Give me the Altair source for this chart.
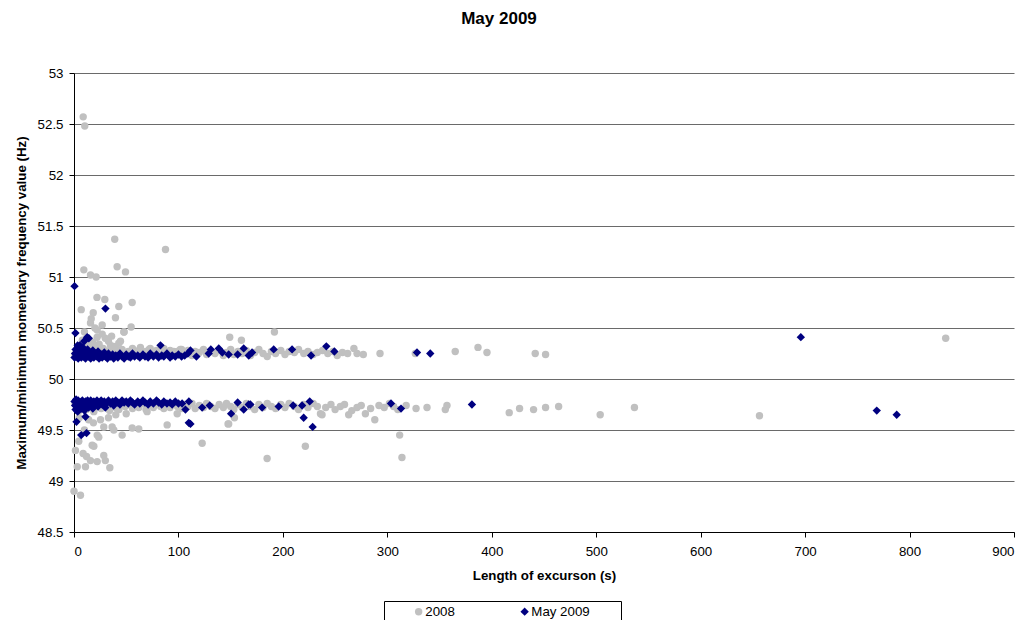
import altair as alt
import pandas as pd

# ---- 2008 series (grey circles) ----
g2008_x = [
    # high outliers
    8.8, 10.3, 39, 87.6, 9.4, 15.8, 21.2, 41.3, 49.3,
    22, 29.5, 55.7, 6.9, 18.4, 16.5, 42.9, 39.7, 27, 47.7, 54.7, 10, 22.2, 44.5, 15.8,
    48, 22.2, 42.9, 63.6, 73, 95.5, 101.8, 149.1, 160.3, 191.9, 30, 35, 12, 4,
    8, 13, 18, 24, 33, 38, 27, 20, 36,
    # upper band
    1, 3, 5, 7, 9, 12, 14, 17, 19, 23, 26, 28, 31, 34, 37, 40, 43, 46, 49, 52, 56, 59, 62,
    66, 69, 72, 76, 79, 83, 86, 89, 92, 96, 99, 103, 106, 109, 113, 116, 120, 124, 127,
    131, 135, 139, 143, 146, 150, 153, 157, 161, 165, 169, 173, 177, 181, 185, 189, 193,
    198, 202, 206, 211, 215, 220, 224, 229, 233, 238, 243, 248, 252, 257, 262, 268, 271,
    277, 293, 326.8, 365, 386.8, 395.4, 441.6, 451.5, 834.6,
    # lower band
    1, 3, 5, 7, 9, 12, 14, 17, 19, 23, 26, 28, 31, 34, 37, 40, 43, 46, 49, 52, 56, 59, 62,
    66, 69, 72, 76, 79, 83, 86, 89, 92, 96, 99, 103, 106, 109, 113, 116, 120, 124, 127,
    131, 135, 139, 143, 146, 150, 153, 157, 161, 165, 169, 173, 177, 181, 185, 189, 193,
    198, 202, 206, 211, 215, 220, 224, 229, 233, 236, 241, 246, 250, 255, 259, 263, 266,
    271, 275, 279, 284, 288, 292, 297, 302, 306, 310, 318, 327.5, 338, 355.5, 357.1,
    416.7, 426.6, 440, 451.5, 464, 503.8, 536.6, 656.3, 70, 98.8, 148.1, 153.6, 237.5,
    # low outliers
    4.6, 1.4, 17.4, 8.7, 28.5, 3.1, 11, 22.2, 34.3, 30, 22.2, 28.5, 25.4, 38.1, 46.1,
    55.7, 62, 89.2, 0, 6.2, 18.6, 19, 15.8, 12, 23.7, 36.5, 122.7, 147.5, 184.9, 221.5,
    311.8, 314, 10, 14, 5, 33, 40, 50,
]
g2008_y = [
    52.57, 52.48, 51.37, 51.27, 51.07, 51.02, 51.0, 51.1, 51.05,
    50.8, 50.78, 50.75, 50.68, 50.65, 50.59, 50.71, 50.6, 50.53, 50.46, 50.51, 50.46, 50.48, 50.37, 50.55,
    50.46, 50.41, 50.35, 50.31, 50.3, 50.27, 50.29, 50.41, 50.38, 50.46, 50.4, 50.33, 50.35, 50.3,
    50.38, 50.33, 50.36, 50.34, 50.37, 50.32, 50.44, 50.5, 50.42,
    50.24, 50.28, 50.22, 50.3, 50.26, 50.23, 50.29, 50.25, 50.31, 50.27, 50.22, 50.3, 50.25, 50.28, 50.23, 50.3, 50.26, 50.29, 50.24, 50.27, 50.3, 50.25, 50.28,
    50.23, 50.27, 50.29, 50.25, 50.28, 50.24, 50.3, 50.26, 50.28, 50.23, 50.27, 50.29, 50.25, 50.28, 50.23, 50.27, 50.26, 50.29, 50.24,
    50.27, 50.25, 50.28, 50.23, 50.26, 50.29, 50.24, 50.27, 50.25, 50.28, 50.23, 50.26, 50.29, 50.25, 50.22, 50.27, 50.25,
    50.28, 50.24, 50.27, 50.26, 50.29, 50.25, 50.27, 50.24, 50.26, 50.28, 50.25, 50.27, 50.23, 50.26, 50.25, 50.3, 50.25,
    50.24, 50.25, 50.25, 50.27, 50.31, 50.26, 50.25, 50.24, 50.40,
    49.76, 49.72, 49.69, 49.78, 49.74, 49.7, 49.77, 49.73, 49.68, 49.75, 49.71, 49.77, 49.73, 49.69, 49.76, 49.72, 49.7, 49.75, 49.73, 49.77, 49.71, 49.74, 49.72,
    49.76, 49.7, 49.74, 49.72, 49.76, 49.73, 49.71, 49.75, 49.72, 49.76, 49.73, 49.71, 49.75, 49.73, 49.76, 49.71, 49.74, 49.72, 49.76,
    49.73, 49.71, 49.75, 49.72, 49.76, 49.73, 49.7, 49.75, 49.72, 49.76, 49.73, 49.7, 49.75, 49.72, 49.76, 49.73, 49.71,
    49.75, 49.72, 49.76, 49.73, 49.7, 49.75, 49.72, 49.76, 49.73, 49.66, 49.72, 49.75, 49.7, 49.73, 49.75, 49.65, 49.69,
    49.72, 49.74, 49.66, 49.71, 49.6, 49.74, 49.72, 49.76, 49.73, 49.7, 49.74, 49.71, 49.72, 49.70, 49.74,
    49.67, 49.71, 49.70, 49.72, 49.73, 49.65, 49.72, 49.64, 49.68, 49.66, 49.56, 49.62, 49.65,
    49.39, 49.3, 49.35, 49.27, 49.25, 49.14, 49.14, 49.19, 49.13, 49.2, 49.45, 49.53, 49.6, 49.5, 49.45,
    49.52, 49.51, 49.55, 48.9, 48.86, 49.57, 49.34, 49.2, 49.24, 49.43, 49.53, 49.37, 49.56, 49.22, 49.34,
    49.45, 49.23, 49.5, 49.6, 49.62, 49.62, 49.65, 49.66,
]

# ---- May 2009 series (navy diamonds) ----
m2009_x = [
    # outliers
    0.5, 30.1, 1.4, 14.2, 82.8, 12.6, 5.6, 9.7, 2.4, 6.9, 12, 11, 111.5, 150.4, 219.9,
    228.5, 109.9,
    # upper band, dense part
    0.5, 1, 1.5, 2, 3, 3.5, 4, 5, 6, 7, 8, 8.5, 9, 10, 11, 12, 13, 14, 15, 16, 17, 18, 19,
    20, 22, 23, 24, 26, 27, 29, 30, 32, 33, 35, 37, 38, 40, 42, 44, 46, 48, 50, 52, 54,
    56, 58, 61, 63, 66, 68, 71, 73, 76, 79, 81, 84, 86, 89, 92, 94, 97, 100, 103, 106, 109,
    # upper band, sparse part
    111.5, 117.2, 129, 131, 138.6, 142, 148.1, 156.7, 162.5, 167.3, 170.5, 191.2, 208.8,
    227, 241.6, 249.3, 328.4, 341.1, 695.9,
    # lower band, dense part
    0.5, 1, 1.5, 2, 3, 3.5, 4, 5, 6, 7, 8, 9, 10, 11, 12, 13, 14, 15, 16, 17, 18, 19, 20,
    22, 23, 24, 26, 27, 29, 30, 32, 33, 35, 37, 38, 40, 42, 44, 46, 48, 50, 52, 54, 56,
    58, 61, 63, 66, 68, 71, 73, 76, 79, 81, 84, 86, 89, 92, 94, 97, 100,
    # lower band, sparse part
    103.5, 106.7, 110, 122.7, 130, 156.7, 162.5, 167.3, 168.9, 180.1, 196, 209.8, 218.4,
    225.7, 303.5, 313.1, 381, 768.6, 787.7,
]
m2009_y = [
    50.91, 50.69, 50.45, 50.4, 50.33, 50.41, 50.33, 50.37, 49.58, 49.45, 49.47, 49.63, 49.56, 49.66, 49.62,
    49.53, 49.57,
    50.21, 50.25, 50.29, 50.22, 50.26, 50.33, 50.2, 50.24, 50.28, 50.21, 50.25, 50.31, 50.22, 50.27, 50.2, 50.24, 50.29, 50.22, 50.26, 50.2, 50.23, 50.28, 50.21,
    50.25, 50.22, 50.27, 50.2, 50.24, 50.21, 50.26, 50.22, 50.2, 50.25, 50.22, 50.24, 50.2, 50.23, 50.21, 50.25, 50.22, 50.2, 50.24, 50.22, 50.21,
    50.25, 50.22, 50.23, 50.21, 50.24, 50.22, 50.21, 50.25, 50.22, 50.24, 50.21, 50.23, 50.22, 50.25, 50.21, 50.23, 50.22, 50.24, 50.22, 50.23, 50.25,
    50.28, 50.22, 50.25, 50.29, 50.3, 50.26, 50.24, 50.24, 50.3, 50.23, 50.26, 50.29, 50.29,
    50.23, 50.32, 50.27, 50.26, 50.25, 50.41,
    49.78, 49.74, 49.7, 49.8, 49.76, 49.68, 49.79, 49.73, 49.77, 49.71, 49.79, 49.75, 49.69, 49.78, 49.74, 49.79, 49.72, 49.77, 49.79, 49.75, 49.71, 49.78, 49.76,
    49.79, 49.73, 49.77, 49.79, 49.75, 49.78, 49.72, 49.77, 49.79, 49.76, 49.78, 49.74, 49.79, 49.77, 49.75, 49.79, 49.77, 49.78, 49.76, 49.79, 49.77,
    49.75, 49.78, 49.76, 49.79, 49.77, 49.75, 49.78, 49.76, 49.79, 49.77, 49.75, 49.78, 49.76, 49.77, 49.75, 49.78, 49.76,
    49.76, 49.7, 49.78, 49.72, 49.74, 49.77, 49.7, 49.75, 49.75, 49.72, 49.73, 49.74, 49.74,
    49.78, 49.76, 49.71, 49.75, 49.69, 49.65,
]

series_names = ["2008", "May 2009"]
series_colors = ["#C0C0C0", "#000080"]
series_shapes = ["circle", "diamond"]
x_ticks = [0, 100, 200, 300, 400, 500, 600, 700, 800, 900]
y_ticks = [48.5, 49, 49.5, 50, 50.5, 51, 51.5, 52, 52.5, 53]

df = pd.concat([
    pd.DataFrame({"series": series_names[0], "x": g2008_x, "y": g2008_y}),
    pd.DataFrame({"series": series_names[1], "x": m2009_x, "y": m2009_y}),
], ignore_index=True)

FONT = "Liberation Sans"
BLANK = "\u2800"  # blank glyph, only used to widen the legend frame on the right

chart = alt.Chart(df).mark_point(filled=True, opacity=1, strokeWidth=0).encode(
    x=alt.X("x:Q", scale=alt.Scale(domain=[0, 900], nice=False, zero=False),
            axis=alt.Axis(values=x_ticks, title="Length of excurson (s)", grid=False,
                          tickSize=5, labelPadding=7, titlePadding=11, format="d")),
    y=alt.Y("y:Q", scale=alt.Scale(domain=[48.5, 53], nice=False, zero=False),
            axis=alt.Axis(values=y_ticks, title="Maximum/minimum momentary frequency value (Hz)",
                          grid=True, gridColor="#6a6a6a", tickSize=5, labelPadding=6,
                          titlePadding=9, format=".1~f")),
    color=alt.Color("series:N", scale=alt.Scale(domain=series_names, range=series_colors),
                    legend=alt.Legend(title=BLANK * 3, titleOrient="right", titlePadding=0,
                                      titleFontSize=12.2, titleFont=FONT, titleColor="white",
                                      orient="none", legendX=310, legendY=528,
                                      direction="horizontal", strokeColor="black",
                                      padding=4, symbolOffset=24, columnPadding=39,
                                      symbolSize=50, labelFontSize=13.3, labelFont=FONT,
                                      labelColor="black", fillColor="white", labelOffset=0)),
    shape=alt.Shape("series:N", scale=alt.Scale(domain=series_names, range=series_shapes)),
    size=alt.Size("series:N", scale=alt.Scale(domain=series_names, range=[55, 70]), legend=None),
    order=alt.Order("series:N", sort="ascending"),
).properties(
    width=940,
    height=459,
    title=alt.TitleParams("May 2009", fontSize=17, fontWeight="bold", font=FONT,
                          anchor="middle", dx=-45, offset=38, color="black"),
    autosize=alt.AutoSizeParams(type="none"),
    padding={"left": 66, "top": 65, "right": 12, "bottom": 88},
).configure_axis(
    labelFont=FONT, titleFont=FONT, labelFontSize=13.3, titleFontSize=13.3,
    titleFontWeight="bold", labelColor="black", titleColor="black",
    domainColor="black", tickColor="black",
).configure_view(stroke=None)

chart.save("out.html", embed_options={"renderer": "svg", "actions": False})
